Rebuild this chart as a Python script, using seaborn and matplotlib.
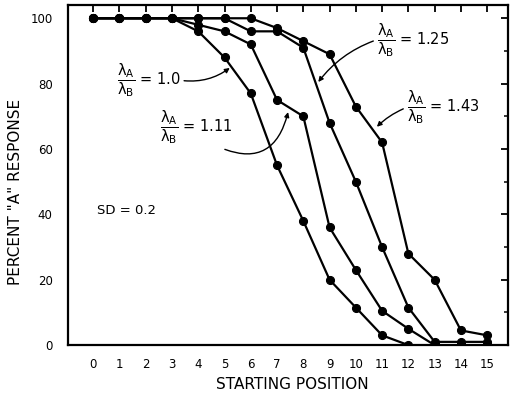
"""
Percent "A" response vs starting position for four lambda ratios (SD = 0.2).
Usage: python plot.py
"""
import matplotlib

matplotlib.use("Agg")
import matplotlib.pyplot as plt
import numpy as np
import pandas as pd
import seaborn as sns
from matplotlib.ticker import MultipleLocator

positions = list(range(16))
ratio_labels = ["1.0", "1.11", "1.25", "1.43"]
pct_10 = [100, 100, 100, 100, 96, 88, 77, 55, 38, 20, 11.5, 3, 0, 0, 0, 0]
pct_111 = [100, 100, 100, 100, 98, 96, 92, 75, 70, 36, 23, 10.5, 5, 0, 0, 0]
pct_125 = [100, 100, 100, 100, 100, 100, 96, 96, 91, 68, 50, 30, 11.5, 1, 1, 1]
pct_143 = [100, 100, 100, 100, 100, 100, 100, 97, 93, 89, 73, 62, 28, 20, 4.5, 3]

x_ticks = list(range(16))
y_ticks = [0, 20, 40, 60, 80, 100]


def main() -> None:
    sns.set_theme(style="white")
    plt.rcParams["font.family"] = ["DejaVu Sans"]
    plt.rcParams["mathtext.fontset"] = "dejavusans"
    plt.rcParams["mathtext.default"] = "regular"
    plt.rcParams["text.color"] = "black"
    plt.rcParams["axes.labelcolor"] = "black"

    df = pd.DataFrame(
        {
            "position": positions * 4,
            "percent": pct_10 + pct_111 + pct_125 + pct_143,
            "ratio": np.repeat(ratio_labels, len(positions)),
        }
    )

    fig = plt.figure(figsize=(5.11, 3.99), dpi=100)
    ax = fig.add_axes([0.133, 0.135, 0.861, 0.852])

    for r in ratio_labels:
        sub = df[df["ratio"] == r]
        sns.lineplot(
            data=sub, x="position", y="percent", ax=ax, color="black",
            linewidth=1.6, marker="o", markersize=5.8, markeredgecolor="black",
            legend=False,
        )

    ax.set_xlim(-0.96, 15.79)
    ax.set_ylim(0, 104)
    ax.set_xticks(x_ticks)
    ax.set_yticks(y_ticks)
    ax.yaxis.set_minor_locator(MultipleLocator(10))
    ax.tick_params(axis="both", which="both", direction="in", top=True, right=True,
                   color="black", labelcolor="black", labelsize=8.5)
    ax.tick_params(axis="both", which="major", length=5, width=1.3)
    ax.tick_params(axis="y", which="minor", length=3, width=1.1)
    ax.tick_params(axis="y", which="major", pad=11)
    ax.tick_params(axis="x", which="major", pad=9)
    for s in ax.spines.values():
        s.set_color("black")
        s.set_linewidth(1.6)

    ax.set_xlabel("STARTING POSITION", fontsize=11, color="black")
    ax.set_ylabel('PERCENT "A" RESPONSE', fontsize=11, color="black")
    ax.xaxis.set_label_coords(0.51, -0.094)
    ax.yaxis.set_label_coords(-0.102, 0.45)

    frac = r"$\dfrac{\lambda_A}{\lambda_B}$"
    akw = dict(arrowstyle="-|>", color="black", lw=1.0, mutation_scale=7,
               shrinkA=0, shrinkB=0)
    lab = dict(fontsize=10.5, va="center", ha="left", color="black")
    ax.annotate(f"{frac} = 1.0", xy=(5.2, 84.8), xytext=(0.9, 81), **lab,
                arrowprops=dict(**akw, relpos=(1, 0.5),
                                connectionstyle="arc3,rad=0.2"))
    ax.annotate(f"{frac} = 1.11", xy=(7.42, 71.3), xytext=(2.55, 66.7), **lab,
                arrowprops=dict(**akw, relpos=(0.78, 0),
                                connectionstyle="arc3,rad=0.6"))
    ax.annotate(f"{frac} = 1.25", xy=(8.57, 80.5), xytext=(10.79, 93.4), **lab,
                arrowprops=dict(**akw, relpos=(0, 0.5),
                                connectionstyle="arc3,rad=0.15"))
    ax.annotate(f"{frac} = 1.43", xy=(10.8, 66.8), xytext=(11.93, 72.7), **lab,
                arrowprops=dict(**akw, relpos=(0, 0.5),
                                connectionstyle="arc3,rad=0.1"))

    ax.text(0.15, 41.3, "SD = 0.2", fontsize=9.5, va="center", ha="left",
            color="black")

    fig.savefig("out.png", dpi=100)
    plt.close(fig)


if __name__ == "__main__":
    main()
